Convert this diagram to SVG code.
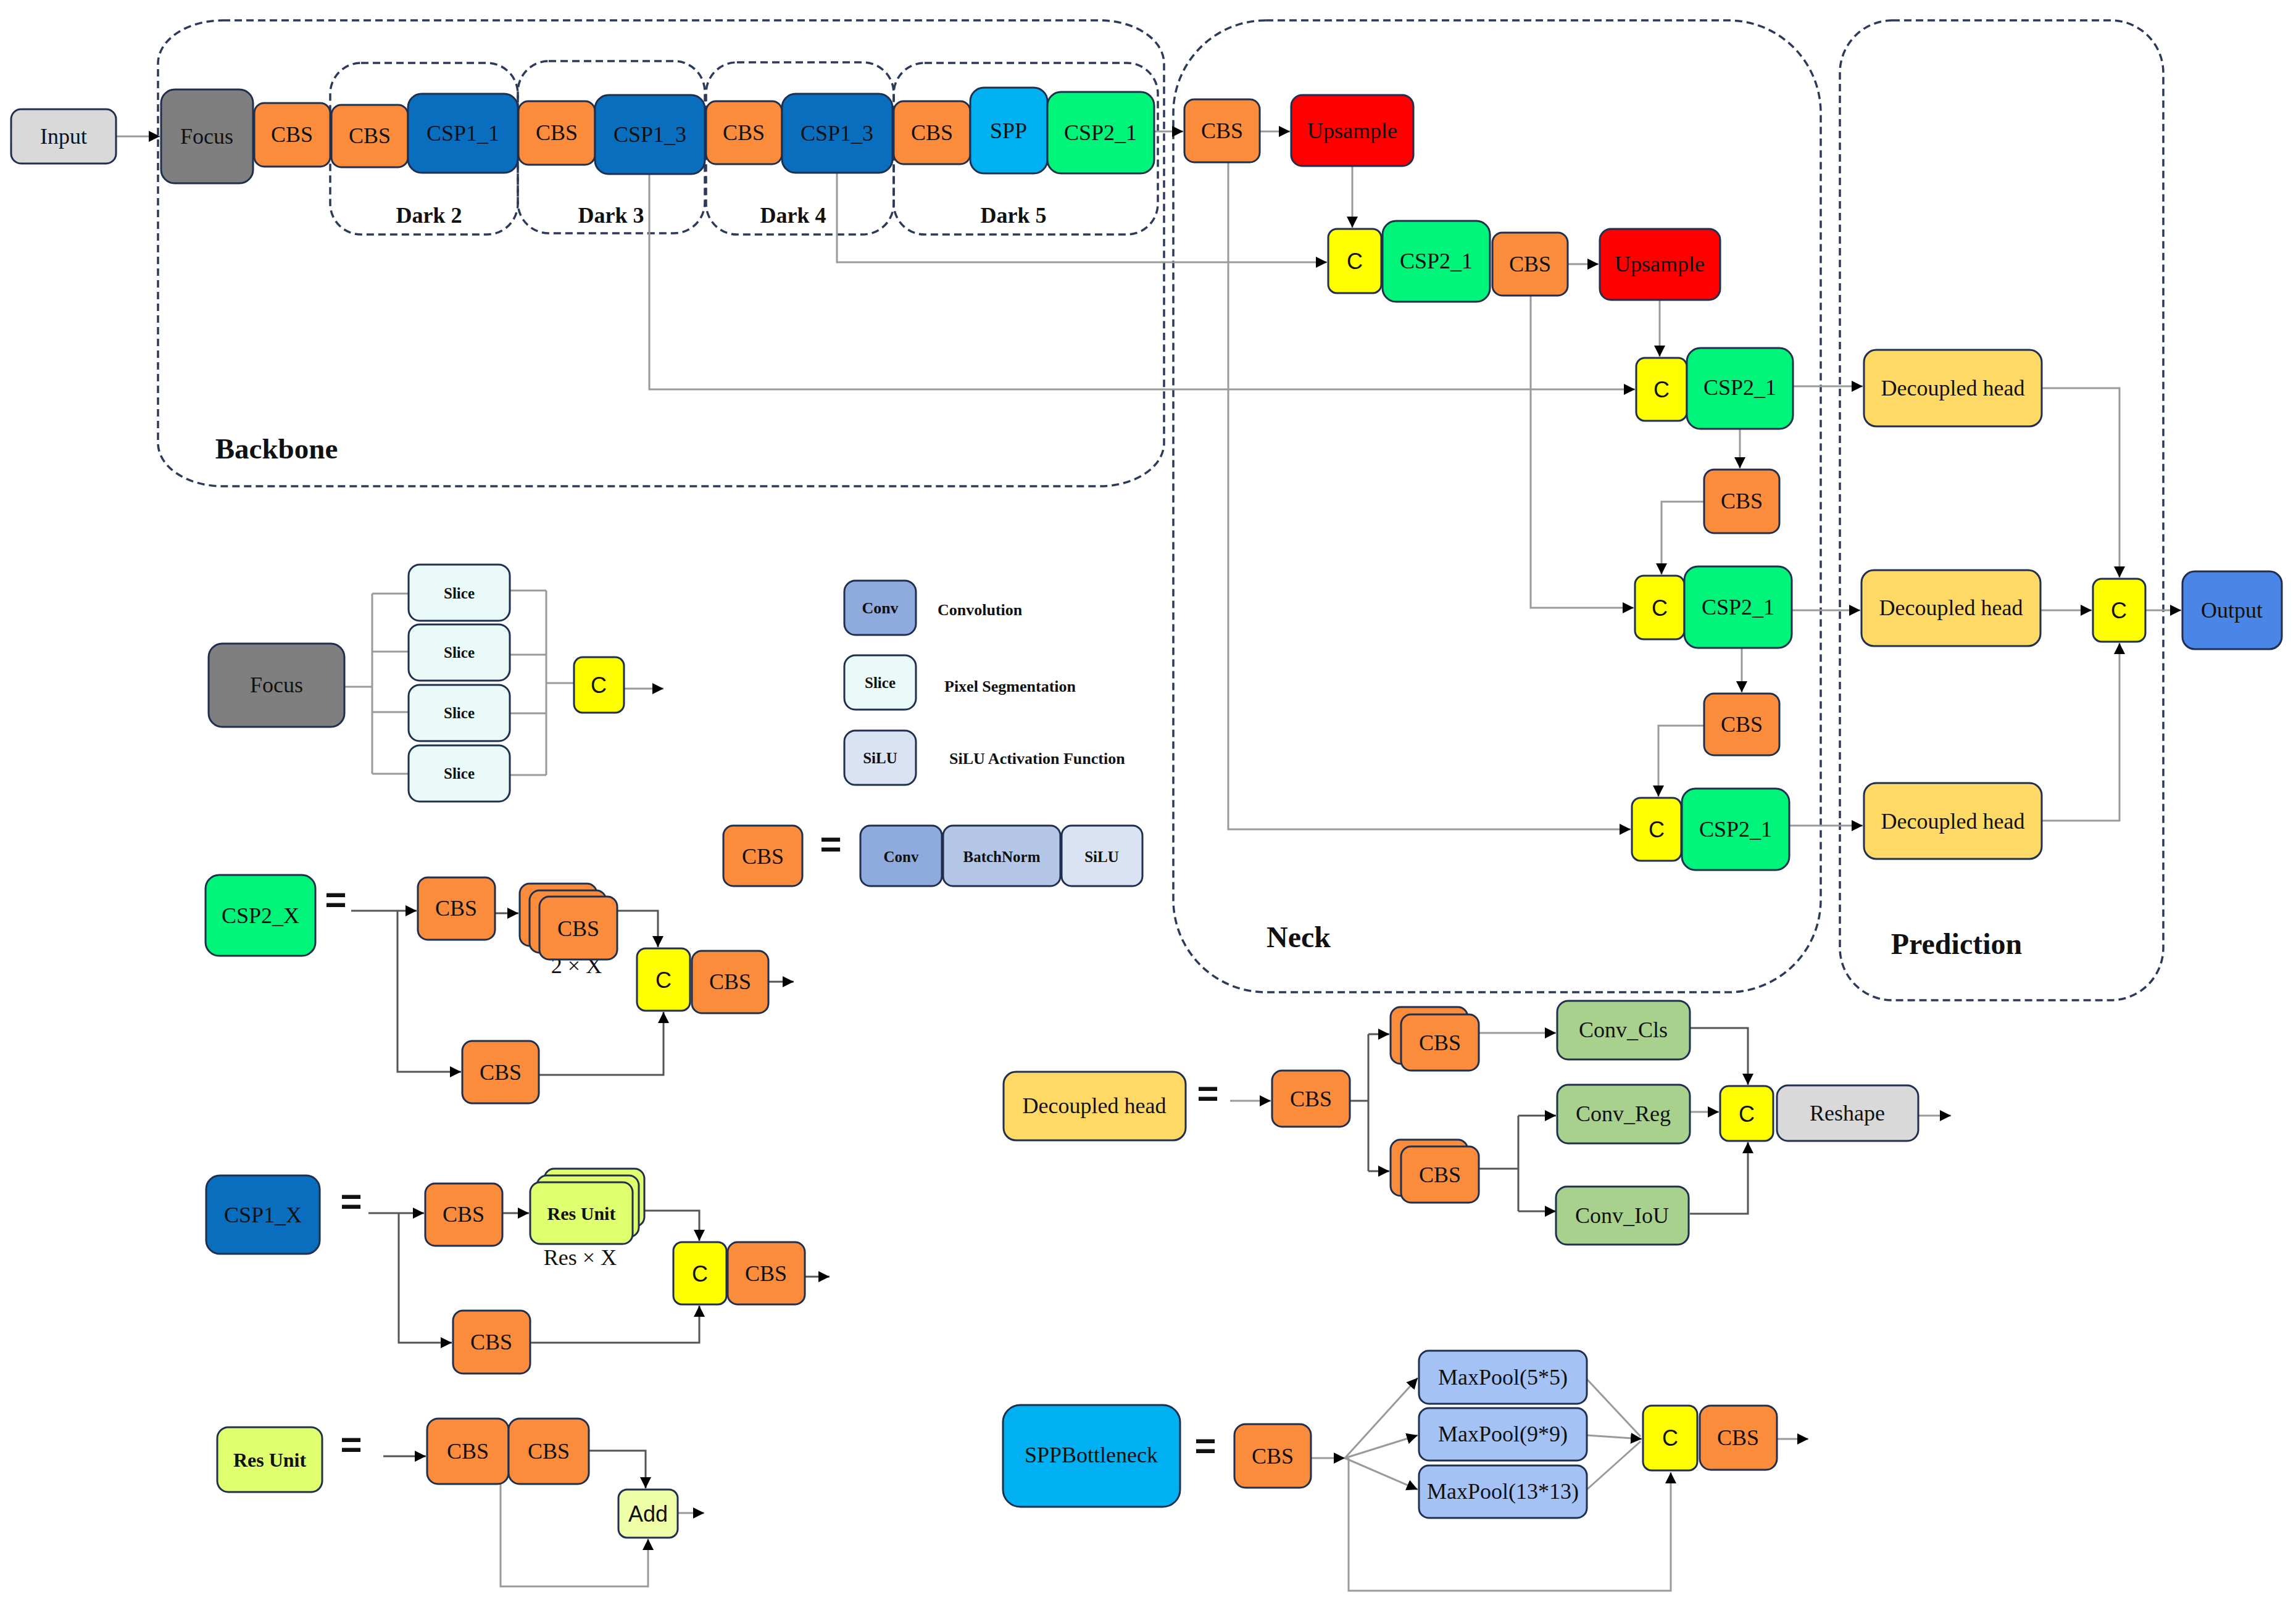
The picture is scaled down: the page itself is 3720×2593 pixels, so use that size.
<svg xmlns="http://www.w3.org/2000/svg" width="3720" height="2593" viewBox="0 0 3720 2593">
<style>
.n{stroke:#1f2f4f;stroke-width:3}
.t{font-family:"Liberation Serif","Times New Roman",serif;font-size:36px;fill:#111;text-anchor:middle;dominant-baseline:central}
.tb{font-family:"Liberation Serif","Times New Roman",serif;font-weight:bold;fill:#111;text-anchor:middle;dominant-baseline:central}
.ts{font-family:"Liberation Sans",Arial,sans-serif;font-size:36px;fill:#111;text-anchor:middle;dominant-baseline:central}
.eq{font-family:"Liberation Sans",Arial,sans-serif;font-size:60px;font-weight:bold;fill:#111;text-anchor:middle;dominant-baseline:central}
.grp{fill:none;stroke:#2c3a5a;stroke-width:3.5;stroke-dasharray:12 7}
.c{fill:none;stroke:#9a9a9a;stroke-width:3}
.cd{fill:none;stroke:#555;stroke-width:3}
.a{marker-end:url(#arr)}
.or{fill:#fb8c3c}.bl{fill:#0a6ebf}.gr{fill:#00f47a}.ye{fill:#ffff00}.rd{fill:#ff0000}.dh{fill:#ffd966}
.gy{fill:#d9d9d9}.fg{fill:#7f7f7f}.cy{fill:#00b0f0}.op{fill:#4a86e8}.cv{fill:#a9d18e}.mp{fill:#a4c2f4}
.ru{fill:#e0ff6e}.ad{fill:#eeffa8}.sl{fill:#eafaf8}.lc{fill:#8faadc}.lb{fill:#b4c7e7}.ls{fill:#dae3f3}
</style>
<defs>
<marker id="arr" viewBox="0 0 10 10" refX="10" refY="5" markerWidth="18" markerHeight="18" markerUnits="userSpaceOnUse" orient="auto">
<path d="M0,0 L10,5 L0,10 z" fill="#000"/>
</marker>
</defs>
<rect width="3720" height="2593" fill="#fff"/>

<!-- group frames -->
<g id="frames">
<rect class="grp" x="256" y="33" width="1630" height="755" rx="105" ry="70"/>
<rect class="grp" x="535" y="102" width="304" height="278" rx="50"/>
<rect class="grp" x="839" y="99" width="303" height="279" rx="50"/>
<rect class="grp" x="1144" y="101" width="304" height="279" rx="50"/>
<rect class="grp" x="1448" y="102" width="428" height="278" rx="50"/>
<rect class="grp" x="1901" y="33" width="1049" height="1575" rx="150"/>
<rect class="grp" x="2981" y="33" width="524" height="1588" rx="85"/>
<text class="tb" x="448" y="727" font-size="47">Backbone</text>
<text class="tb" x="695" y="349" font-size="36">Dark 2</text>
<text class="tb" x="990" y="349" font-size="36">Dark 3</text>
<text class="tb" x="1285" y="349" font-size="36">Dark 4</text>
<text class="tb" x="1642" y="349" font-size="36">Dark 5</text>
<text class="tb" x="2104" y="1518" font-size="48">Neck</text>
<text class="tb" x="3170" y="1529" font-size="48">Prediction</text>
</g>

<g id="connectors">
<path class="c a" d="M188,221 H259"/>
<path class="c a" d="M1870,213 H1917"/>
<path class="c a" d="M1052,282 V631 H2649"/>
<path class="c a" d="M1356,280 V425 H2150"/>
<path class="c a" d="M2041,213 H2090"/>
<path class="c a" d="M2191,269 V369"/>
<path class="c a" d="M2540,428 H2590"/>
<path class="c a" d="M2689,486 V578"/>
<path class="c a" d="M1990,263 V1344 H2642"/>
<path class="c a" d="M2480,479 V985 H2647"/>
<path class="c a" d="M2819,695 V759"/>
<path class="c a" d="M2761,813 H2692 V931"/>
<path class="c a" d="M2822,1050 V1122"/>
<path class="c a" d="M2761,1176 H2687 V1291"/>
<path class="c a" d="M2905,626 H3018"/>
<path class="c a" d="M2903,989 H3014"/>
<path class="c a" d="M2899,1338 H3018"/>
<path class="c a" d="M3308,629 H3434 V936"/>
<path class="c a" d="M3306,989 H3389"/>
<path class="c a" d="M3308,1330 H3434 V1042"/>
<path class="c a" d="M3476,989 H3534"/>
<!-- focus detail -->
<path class="c" d="M558,1113 H603 M603,962 V1254 M603,962 H662 M603,1056 H662 M603,1154 H662 M603,1254 H662"/>
<path class="c" d="M826,957 H885 M826,1061 H885 M826,1156 H885 M826,1256 H885 M885,957 V1256 M885,1107 H930"/>
<path class="c a" d="M1011,1116 H1075"/>
<!-- CSP2_X -->
<path class="cd a" d="M569,1476 H675"/>
<path class="cd a" d="M644,1476 V1737 H747"/>
<path class="cd a" d="M802,1480 H840"/>
<path class="cd a" d="M1000,1476 H1066 V1535"/>
<path class="cd a" d="M873,1742 H1075 V1640"/>
<path class="cd a" d="M1245,1591 H1286"/>
<!-- CSP1_X -->
<path class="cd a" d="M597,1966 H687"/>
<path class="cd a" d="M646,1966 V2176 H732"/>
<path class="cd a" d="M814,1966 H857"/>
<path class="cd a" d="M1044,1962 H1133 V2011"/>
<path class="cd a" d="M859,2176 H1133 V2116"/>
<path class="cd a" d="M1304,2069 H1344"/>
<!-- Res Unit -->
<path class="cd a" d="M621,2360 H690"/>
<path class="cd a" d="M954,2351 H1046 V2412"/>
<path class="c a" d="M811,2405 V2571 H1050 V2494"/>
<path class="c a" d="M1098,2452 H1141"/>
<!-- Decoupled head -->
<path class="c a" d="M1993,1784 H2059"/>
<path class="cd" d="M2187,1784 H2217 M2217,1676 V1898"/>
<path class="cd a" d="M2217,1676 H2251"/>
<path class="cd a" d="M2217,1898 H2251"/>
<path class="c a" d="M2396,1674 H2521"/>
<path class="cd" d="M2396,1894 H2460 M2460,1808 V1963"/>
<path class="cd a" d="M2460,1808 H2521"/>
<path class="cd a" d="M2460,1963 H2521"/>
<path class="cd a" d="M2738,1666 H2832 V1758"/>
<path class="c a" d="M2738,1802 H2785"/>
<path class="cd a" d="M2738,1967 H2832 V1851"/>
<path class="c a" d="M3108,1808 H3161"/>
<!-- SPP -->
<path class="c a" d="M2124,2363 H2179"/>
<path class="c a" d="M2179,2363 L2297,2233"/>
<path class="c a" d="M2179,2363 L2297,2326"/>
<path class="c a" d="M2179,2363 L2297,2414"/>
<path class="c a" d="M2185,2363 V2578 H2707 V2386"/>
<path class="c" d="M2571,2235 L2658,2328"/>
<path class="c a" d="M2571,2326 L2660,2332"/>
<path class="c" d="M2571,2414 L2658,2336"/>
<path class="c a" d="M2879,2332 H2930"/>
</g>

<!-- backbone nodes -->
<g id="input"><rect class="n gy" x="18" y="177" width="170" height="88" rx="16"/><text class="t" x="103" y="221" font-size="40">Input</text></g>
<g id="bb_focus"><rect class="n fg" x="261" y="145" width="149" height="152" rx="22"/><text class="t" x="335" y="221">Focus</text></g>
<g id="bb_cbs1"><rect class="n or" x="412" y="167" width="123" height="103" rx="16"/><text class="t" x="473" y="218">CBS</text></g>
<g id="bb_cbs2"><rect class="n or" x="537" y="170" width="124" height="101" rx="16"/><text class="t" x="599" y="220">CBS</text></g>
<g id="bb_csp1_1"><rect class="n bl" x="661" y="152" width="178" height="128" rx="22"/><text class="t" x="750" y="216">CSP1_1</text></g>
<g id="bb_cbs3"><rect class="n or" x="840" y="164" width="124" height="103" rx="16"/><text class="t" x="902" y="215">CBS</text></g>
<g id="bb_csp1_3a"><rect class="n bl" x="964" y="154" width="178" height="128" rx="22"/><text class="t" x="1053" y="218">CSP1_3</text></g>
<g id="bb_cbs4"><rect class="n or" x="1144" y="164" width="123" height="102" rx="16"/><text class="t" x="1205" y="215">CBS</text></g>
<g id="bb_csp1_3b"><rect class="n bl" x="1267" y="152" width="179" height="128" rx="22"/><text class="t" x="1356" y="216">CSP1_3</text></g>
<g id="bb_cbs5"><rect class="n or" x="1448" y="164" width="124" height="102" rx="16"/><text class="t" x="1510" y="215">CBS</text></g>
<g id="bb_spp"><rect class="n cy" x="1572" y="142" width="125" height="139" rx="22"/><text class="t" x="1634" y="212">SPP</text></g>
<g id="bb_csp2_1"><rect class="n gr" x="1697" y="149" width="173" height="132" rx="22"/><text class="t" x="1783" y="215">CSP2_1</text></g>

<!-- neck nodes -->
<g id="nk_cbs1"><rect class="n or" x="1919" y="161" width="122" height="102" rx="16"/><text class="t" x="1980" y="212">CBS</text></g>
<g id="nk_up1"><rect class="n rd" x="2092" y="154" width="198" height="115" rx="18"/><text class="t" x="2191" y="212">Upsample</text></g>
<g id="nk_c1"><rect class="n ye" x="2152" y="371" width="86" height="104" rx="14"/><text class="ts" x="2195" y="423">C</text></g>
<g id="nk_csp1"><rect class="n gr" x="2240" y="358" width="174" height="131" rx="22"/><text class="t" x="2327" y="423">CSP2_1</text></g>
<g id="nk_cbs2"><rect class="n or" x="2418" y="377" width="122" height="102" rx="16"/><text class="t" x="2479" y="428">CBS</text></g>
<g id="nk_up2"><rect class="n rd" x="2592" y="371" width="195" height="115" rx="18"/><text class="t" x="2689" y="428">Upsample</text></g>
<g id="nk_c2"><rect class="n ye" x="2651" y="580" width="82" height="102" rx="14"/><text class="ts" x="2692" y="631">C</text></g>
<g id="nk_csp2"><rect class="n gr" x="2733" y="564" width="172" height="131" rx="22"/><text class="t" x="2819" y="628">CSP2_1</text></g>
<g id="nk_cbs3"><rect class="n or" x="2761" y="761" width="122" height="103" rx="16"/><text class="t" x="2822" y="812">CBS</text></g>
<g id="nk_c3"><rect class="n ye" x="2649" y="933" width="80" height="103" rx="14"/><text class="ts" x="2689" y="985">C</text></g>
<g id="nk_csp3"><rect class="n gr" x="2729" y="918" width="174" height="132" rx="22"/><text class="t" x="2816" y="984">CSP2_1</text></g>
<g id="nk_cbs4"><rect class="n or" x="2761" y="1124" width="122" height="100" rx="16"/><text class="t" x="2822" y="1174">CBS</text></g>
<g id="nk_c4"><rect class="n ye" x="2644" y="1293" width="80" height="102" rx="14"/><text class="ts" x="2684" y="1344">C</text></g>
<g id="nk_csp4"><rect class="n gr" x="2725" y="1278" width="174" height="132" rx="22"/><text class="t" x="2812" y="1344">CSP2_1</text></g>

<!-- prediction nodes -->
<g id="pr_dh1"><rect class="n dh" x="3020" y="567" width="288" height="124" rx="20"/><text class="t" x="3164" y="629">Decoupled head</text></g>
<g id="pr_dh2"><rect class="n dh" x="3016" y="924" width="290" height="123" rx="20"/><text class="t" x="3161" y="985">Decoupled head</text></g>
<g id="pr_dh3"><rect class="n dh" x="3020" y="1269" width="288" height="123" rx="20"/><text class="t" x="3164" y="1331">Decoupled head</text></g>
<g id="pr_c"><rect class="n ye" x="3391" y="938" width="85" height="102" rx="14"/><text class="ts" x="3433" y="989">C</text></g>
<g id="output"><rect class="n op" x="3536" y="926" width="161" height="126" rx="20"/><text class="t" x="3616" y="989">Output</text></g>

<!-- Focus detail -->
<g id="fd_focus"><rect class="n fg" x="338" y="1043" width="220" height="135" rx="22"/><text class="t" x="448" y="1110">Focus</text></g>
<g id="fd_slice1"><rect class="n sl" x="662" y="915" width="164" height="91" rx="18"/><text class="tb" x="744" y="961" font-size="25">Slice</text></g>
<g id="fd_slice2"><rect class="n sl" x="662" y="1012" width="164" height="91" rx="18"/><text class="tb" x="744" y="1057" font-size="25">Slice</text></g>
<g id="fd_slice3"><rect class="n sl" x="662" y="1110" width="164" height="91" rx="18"/><text class="tb" x="744" y="1155" font-size="25">Slice</text></g>
<g id="fd_slice4"><rect class="n sl" x="662" y="1208" width="164" height="91" rx="18"/><text class="tb" x="744" y="1253" font-size="25">Slice</text></g>
<g id="fd_c"><rect class="n ye" x="930" y="1065" width="81" height="90" rx="14"/><text class="ts" x="970" y="1110">C</text></g>

<!-- legend -->
<g id="lg_conv"><rect class="n lc" x="1368" y="941" width="116" height="88" rx="18"/><text class="tb" x="1426" y="985" font-size="26">Conv</text><text class="tb" x="1519" y="988" font-size="26" style="text-anchor:start">Convolution</text></g>
<g id="lg_slice"><rect class="n sl" x="1368" y="1062" width="116" height="88" rx="18"/><text class="tb" x="1426" y="1106" font-size="25">Slice</text><text class="tb" x="1530" y="1112" font-size="26" style="text-anchor:start">Pixel Segmentation</text></g>
<g id="lg_silu"><rect class="n ls" x="1368" y="1184" width="116" height="88" rx="18"/><text class="tb" x="1426" y="1228" font-size="25">SiLU</text><text class="tb" x="1538" y="1229" font-size="26" style="text-anchor:start">SiLU Activation Function</text></g>

<!-- CBS definition -->
<g id="def_cbs"><rect class="n or" x="1172" y="1338" width="128" height="98" rx="16"/><text class="t" x="1236" y="1388">CBS</text></g>
<text class="eq" x="1346" y="1367">=</text>
<g id="def_conv"><rect class="n lc" x="1394" y="1338" width="132" height="98" rx="16"/><text class="tb" x="1460" y="1388" font-size="25">Conv</text></g>
<g id="def_bn"><rect class="n lb" x="1528" y="1338" width="190" height="98" rx="16"/><text class="tb" x="1623" y="1388" font-size="25">BatchNorm</text></g>
<g id="def_silu"><rect class="n ls" x="1720" y="1338" width="131" height="98" rx="16"/><text class="tb" x="1785" y="1388" font-size="25">SiLU</text></g>

<!-- CSP2_X definition -->
<g id="csp2x"><rect class="n gr" x="333" y="1418" width="178" height="131" rx="22"/><text class="t" x="422" y="1484">CSP2_X</text></g>
<text class="eq" x="544" y="1457">=</text>
<g id="csp2x_cbs_a"><rect class="n or" x="677" y="1422" width="125" height="101" rx="16"/><text class="t" x="739" y="1472">CBS</text></g>
<text class="t" x="934" y="1565" font-size="26">2 × X</text>
<g id="csp2x_stack"><rect class="n or" x="842" y="1432" width="125" height="101" rx="16"/><rect class="n or" x="858" y="1443" width="124" height="101" rx="16"/><rect class="n or" x="874" y="1453" width="126" height="102" rx="16"/><text class="t" x="937" y="1505">CBS</text></g>
<g id="csp2x_c"><rect class="n ye" x="1032" y="1537" width="86" height="101" rx="14"/><text class="ts" x="1075" y="1588">C</text></g>
<g id="csp2x_cbs_c"><rect class="n or" x="1121" y="1541" width="124" height="101" rx="16"/><text class="t" x="1183" y="1591">CBS</text></g>
<g id="csp2x_cbs_b"><rect class="n or" x="749" y="1687" width="124" height="101" rx="16"/><text class="t" x="811" y="1738">CBS</text></g>

<!-- CSP1_X definition -->
<g id="csp1x"><rect class="n bl" x="334" y="1905" width="184" height="127" rx="22"/><text class="t" x="426" y="1969">CSP1_X</text></g>
<text class="eq" x="569" y="1946">=</text>
<g id="csp1x_cbs_d"><rect class="n or" x="689" y="1918" width="125" height="101" rx="16"/><text class="t" x="751" y="1968">CBS</text></g>
<g id="csp1x_res"><rect class="n ru" x="882" y="1894" width="162" height="94" rx="16"/><rect class="n ru" x="870" y="1905" width="165" height="100" rx="16"/><rect class="n ru" x="859" y="1916" width="166" height="100" rx="16"/><text class="tb" x="942" y="1966" font-size="30">Res Unit</text></g>
<text class="t" x="940" y="2038" font-size="26">Res × X</text>
<g id="csp1x_c"><rect class="n ye" x="1091" y="2013" width="86" height="101" rx="14"/><text class="ts" x="1134" y="2064">C</text></g>
<g id="csp1x_cbs_f"><rect class="n or" x="1179" y="2013" width="125" height="101" rx="16"/><text class="t" x="1241" y="2064">CBS</text></g>
<g id="csp1x_cbs_e"><rect class="n or" x="734" y="2124" width="125" height="102" rx="16"/><text class="t" x="796" y="2175">CBS</text></g>

<!-- Res Unit definition -->
<g id="resunit"><rect class="n ru" x="352" y="2313" width="170" height="105" rx="18"/><text class="tb" x="437" y="2366" font-size="32">Res Unit</text></g>
<text class="eq" x="569" y="2340">=</text>
<g id="ru_cbs1"><rect class="n or" x="692" y="2299" width="132" height="106" rx="18"/><text class="t" x="758" y="2352">CBS</text></g>
<g id="ru_cbs2"><rect class="n or" x="824" y="2299" width="130" height="106" rx="18"/><text class="t" x="889" y="2352">CBS</text></g>
<g id="ru_add"><rect class="n ad" x="1002" y="2414" width="96" height="78" rx="14"/><text class="ts" x="1050" y="2453" font-size="26">Add</text></g>

<!-- Decoupled head definition -->
<g id="dhd"><rect class="n dh" x="1626" y="1737" width="295" height="111" rx="20"/><text class="t" x="1773" y="1792">Decoupled head</text></g>
<text class="eq" x="1957" y="1771">=</text>
<g id="dhd_cbs"><rect class="n or" x="2061" y="1735" width="126" height="91" rx="16"/><text class="t" x="2124" y="1781">CBS</text></g>
<g id="dhd_cbs_top"><rect class="n or" x="2253" y="1632" width="125" height="92" rx="16"/><rect class="n or" x="2270" y="1644" width="126" height="91" rx="16"/><text class="t" x="2333" y="1690">CBS</text></g>
<g id="dhd_cbs_bot"><rect class="n or" x="2253" y="1847" width="125" height="91" rx="16"/><rect class="n or" x="2270" y="1858" width="126" height="91" rx="16"/><text class="t" x="2333" y="1904">CBS</text></g>
<g id="dhd_cls"><rect class="n cv" x="2523" y="1622" width="215" height="95" rx="18"/><text class="t" x="2630" y="1669" font-size="33">Conv_Cls</text></g>
<g id="dhd_reg"><rect class="n cv" x="2523" y="1758" width="215" height="95" rx="18"/><text class="t" x="2630" y="1805" font-size="33">Conv_Reg</text></g>
<g id="dhd_iou"><rect class="n cv" x="2521" y="1923" width="215" height="94" rx="18"/><text class="t" x="2628" y="1970" font-size="33">Conv_IoU</text></g>
<g id="dhd_c"><rect class="n ye" x="2787" y="1760" width="86" height="89" rx="14"/><text class="ts" x="2830" y="1805">C</text></g>
<g id="dhd_reshape"><rect class="n gy" x="2879" y="1759" width="229" height="90" rx="18"/><text class="t" x="2993" y="1804" font-size="38">Reshape</text></g>

<!-- SPP definition -->
<g id="sppb"><rect class="n cy" x="1625" y="2277" width="287" height="165" rx="28"/><text class="t" x="1768" y="2358">SPPBottleneck</text></g>
<text class="eq" x="1953" y="2342">=</text>
<g id="spp_cbs"><rect class="n or" x="2000" y="2308" width="124" height="103" rx="18"/><text class="t" x="2062" y="2360">CBS</text></g>
<g id="spp_mp5"><rect class="n mp" x="2299" y="2189" width="272" height="86" rx="16"/><text class="t" x="2435" y="2232" font-size="30">MaxPool(5*5)</text></g>
<g id="spp_mp9"><rect class="n mp" x="2299" y="2282" width="272" height="85" rx="16"/><text class="t" x="2435" y="2324" font-size="30">MaxPool(9*9)</text></g>
<g id="spp_mp13"><rect class="n mp" x="2299" y="2375" width="272" height="85" rx="16"/><text class="t" x="2435" y="2417" font-size="30">MaxPool(13*13)</text></g>
<g id="spp_c"><rect class="n ye" x="2662" y="2278" width="88" height="105" rx="14"/><text class="ts" x="2706" y="2330">C</text></g>
<g id="spp_cbs2"><rect class="n or" x="2754" y="2278" width="125" height="104" rx="18"/><text class="t" x="2816" y="2330">CBS</text></g>
</svg>
